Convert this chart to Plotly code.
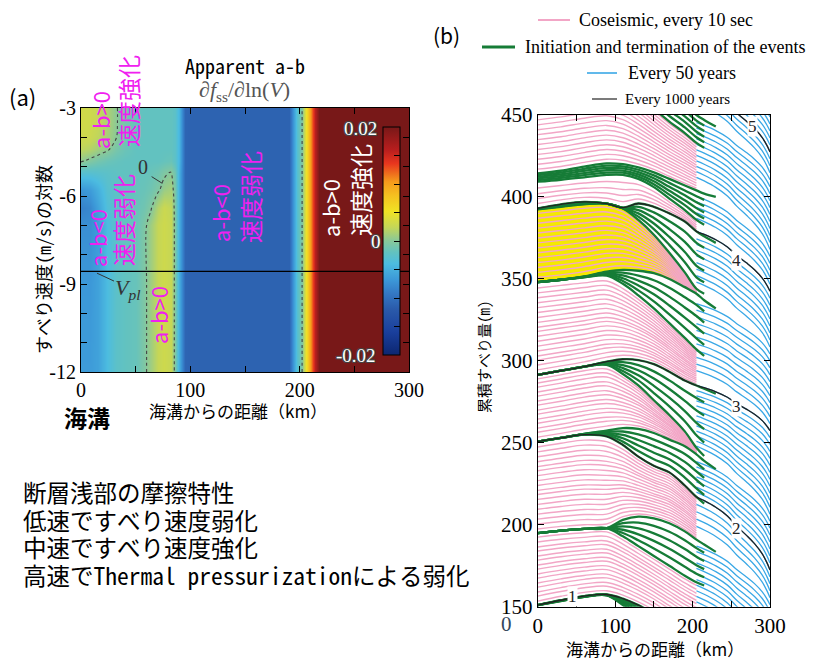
import plotly.graph_objects as go

# page body has an 8 px margin, so the figure is drawn 8 px in from the corner
OFF = 8
W, H = 831 - OFF, 660 - OFF


def px(x):
    return (x - OFF) / W


def py(y):
    return 1 - (y - OFF) / H


SERIF = "Liberation Serif, Times New Roman, serif"
JP = "Noto Sans CJK JP, sans-serif"
MONO = "Noto Sans Mono CJK JP, DejaVu Sans Mono, Noto Sans CJK JP, monospace"

# ---------------- panel (a): apparent a-b ----------------
ab_x_left = [0, 8, 16, 24, 32, 40, 50, 58, 64, 70, 76, 82, 86, 90]
ab_x_right = [95, 100, 190, 194, 198, 202, 206, 210, 214, 218, 224, 300]
ab_right = [-0.011, -0.0112, -0.0112, -0.007, -0.003, -0.0003, 0.005, 0.011, 0.016, 0.02, 0.025, 0.025]
ab_logv = [-12, -9, -7, -6.4, -5.8, -5.2, -4.8, -4.4, -4.0, -3.5, -3]
ab_rows_left = [
    [-0.0065, -0.0065, -0.006, -0.004, -0.0025, -0.002, -0.0017, -0.0005, 0.001, 0.0025, 0.003, 0.0025, -0.0005, -0.005],
    [-0.0068, -0.0068, -0.006, -0.004, -0.0025, -0.002, -0.0017, -0.0005, 0.001, 0.0025, 0.003, 0.0025, -0.0005, -0.005],
    [-0.0075, -0.0075, -0.0065, -0.004, -0.0025, -0.002, -0.0017, -0.0005, 0.001, 0.0025, 0.003, 0.0025, -0.0005, -0.005],
    [-0.0085, -0.008, -0.006, -0.0035, -0.0025, -0.002, -0.0017, -0.0012, -0.0002, 0.0018, 0.0028, 0.0023, -0.0006, -0.005],
    [-0.007, -0.0065, -0.005, -0.003, -0.0023, -0.002, -0.0018, -0.0016, -0.0012, -0.0004, 0.0008, 0.0012, -0.0008, -0.005],
    [-0.003, -0.003, -0.0028, -0.0025, -0.0022, -0.002, -0.0019, -0.0018, -0.0016, -0.0012, -0.0004, 0.0001, -0.0012, -0.005],
    [0.0003, -0.0004, -0.001, -0.0015, -0.0018, -0.002, -0.002, -0.002, -0.002, -0.002, -0.0018, -0.0016, -0.0025, -0.0045],
    [0.0022, 0.0018, 0.001, 0.0003, -0.0008, -0.0015, -0.002, -0.002, -0.002, -0.002, -0.002, -0.002, -0.0025, -0.0045],
    [0.003, 0.0028, 0.0022, 0.0012, 0.0001, -0.0012, -0.002, -0.002, -0.002, -0.002, -0.002, -0.002, -0.0025, -0.0045],
    [0.0032, 0.003, 0.0025, 0.0015, 0.0002, -0.001, -0.0018, -0.002, -0.002, -0.002, -0.002, -0.002, -0.0025, -0.0045],
    [0.0032, 0.003, 0.0025, 0.0015, 0.0002, -0.001, -0.0018, -0.002, -0.002, -0.002, -0.002, -0.002, -0.0025, -0.0045],
]
vpl_log = -8.57
cbar_ticks = [-0.02, -0.015, -0.01, -0.005, 0, 0.005, 0.01, 0.015, 0.02]

ab_colors = [
    [0.0, "#0c2670"], [0.1, "#1a3f9c"], [0.2, "#2a5aaa"], [0.27, "#3478c4"],
    [0.33, "#3c98d8"], [0.4, "#4cbce0"], [0.45, "#62c2c0"], [0.5, "#88c89a"],
    [0.56, "#c4d658"], [0.63, "#f0e224"], [0.7, "#f5c020"], [0.76, "#f59a1c"],
    [0.84, "#e8361e"], [0.9, "#b81e1e"], [1.0, "#781818"],
]

# ---------------- panel (b): cumulative slip ----------------
X_PROF = [0, 30, 60, 89, 110, 130, 150, 170, 190, 205, 215, 230]
# lowest (F) and top (T) green lines of each event cluster
F_LINES = [
    [151, 153.5, 156, 157, 151, 144, 136, 128, 120, 115, 112],
    [195, 196.5, 197.5, 198, 193, 187, 181, 175, 169, 165, 163],
    [250.7, 253, 255, 254, 248.7, 241.6, 236, 232, 224, 217, 213],
    [291.5, 294, 296.5, 297.5, 292, 285, 276, 267, 257, 247, 242],
    [348, 349.5, 351, 352, 347, 340, 332, 323, 314, 307, 303],
    [392.5, 394, 395.5, 396, 393, 386, 377, 366, 354, 344, 341],
    [409.3, 410.5, 412, 413.5, 413.5, 411, 406, 399, 392, 386, 383],
    [470, 472, 474, 475, 471, 463, 454, 446, 439, 433, 430],
]
T_LINES = [
    [151, 154, 156.5, 157.5, 155, 151, 146, 140, 134, 130, 127, 124],
    [195, 196.5, 197.5, 198, 203, 205, 204, 201, 196, 191, 188, 183.5],
    [250.7, 253, 255.5, 257.5, 259, 258.5, 256, 252, 248, 243, 239, 234],
    [291.5, 294, 296.5, 299.5, 301, 300.5, 298, 293.4, 288, 285, 283, 280],
    [348, 349.5, 351.5, 354.4, 355.5, 355, 353.5, 350, 345, 341, 337, 332],
    [393, 395.5, 397, 396, 393.5, 396, 394, 390, 385, 379, 376, 372],
    [414.4, 416, 418.5, 420.5, 420, 418, 415, 411, 407, 404, 402, 400],
    [473, 475, 478, 480, 479, 476, 470, 463, 456, 450, 447, 443],
]
fan_frac = [0.0, 0.2, 0.4, 0.6, 0.8]
# coseismic snapshot levels at the trench, per slip cycle
pink_levels = [
    [153.5, 156.5, 159, 162, 164.5, 167.5, 170, 173, 175.5, 178.5, 181, 184, 186.5, 189.5, 192.5],
    [197.5, 200.5, 203.5, 206.5, 209.5, 212.5, 215.5, 218.5, 221, 224, 227, 230, 233, 235.5, 238.5, 241.5, 244.5, 247.5],
    [253.5, 256.5, 259, 262, 264.5, 267.5, 270, 273, 275.5, 278.5, 281, 284, 286.5, 289],
    [294.5, 297.5, 300.5, 303, 306, 309, 312, 315, 318, 320.5, 323.5, 326.5, 329.5, 332.5, 335.5, 338.5, 341.5, 344.5],
    [351, 354, 357, 360, 363, 366, 369, 372, 375, 378, 381, 384, 387, 390],
    [396, 399, 402, 405.5],
    [417, 420, 423, 426, 429, 432, 435, 438, 441, 444, 447, 450, 453, 456, 459, 462, 465, 468],
]
yellow_cycle = 4

# every-50-year interseismic lines: slip at x=205 km and at x=300 km
blue_start = [149.6, 153, 156.4, 159.8, 163.2, 166.6, 170, 173.4, 176.8, 180.2, 183.6, 187,
              199, 203.5, 208, 212.5, 217, 220, 223, 226.2, 229.3, 232.4, 235.4, 238.5,
              248, 251, 254.1, 257.2, 260.3, 263.3, 266.4, 269.5, 272.6, 275.6, 278.7, 281.8, 285,
              294, 298.1, 302.2, 306.3, 310.4, 314.5, 318.6, 322.7, 326.8, 330.9, 335,
              348, 352, 356, 360, 364, 367.5, 371, 374.5, 379,
              387, 390.3, 393.7, 397, 400.3,
              412, 415.4, 418.7, 422, 425.4, 428.7, 432, 435.4, 438.7, 442, 445.4,
              457, 460.3, 463.7, 467, 470.3, 473.7, 477, 480.4, 483.7]
blue_end = [104.5, 108.75, 113, 117.25, 121.5, 125.75, 130, 134.25, 138.5, 142.75, 147, 151.25,
            155.5, 159.75, 164, 168.25, 172.5, 176.75, 181, 185.25, 189.5, 193.75, 198, 202.25,
            206.5, 210.75, 215, 219.25, 223.5, 227.75, 232, 236.25, 240.5, 244.75, 249, 253.25, 257.5,
            261.75, 266, 270.25, 274.5, 278.75, 283, 287.25, 291.5, 295.75, 300, 304.25,
            308.5, 312.75, 317, 321.25, 325.5, 329.75, 334, 338.25, 342.5,
            346.75, 351, 355.25, 359.5, 363.75,
            368, 372.25, 376.5, 380.75, 385, 389.25, 393.5, 397.75, 402, 406.25, 410.5,
            414.75, 419, 423.25, 427.5, 431.75, 436, 440.25, 444.5, 448.75]
X_DEEP = [205, 215, 230, 245, 257, 270, 280, 290, 296, 300]
deep_shape = [1, 0.95, 0.86, 0.74, 0.6, 0.47, 0.36, 0.22, 0.1, 0]

# every-1000-year lines
black_left = [
    [151, 154, 156.5, 157.5, 155, 151, 146, 140, 134, 130],
    [250.7, 253, 255, 254, 248.7, 241.6, 236, 232, 224, 217],
    [291.5, 294, 296.5, 299.5, 301, 300.5, 298, 293.4, 288, 285],
    [393, 395.5, 397, 396, 393.5, 396, 394, 390, 385, 379],
    [488, 490, 493, 495, 494, 490, 485, 478, 472, 467],
]
black_end = [88, 172.5, 257.5, 342.5, 427.5]
black_labels = ["1", "2", "3", "4", "5"]
black_label_pos = [(45, 156), (257, 198), (257, 272), (257, 361), (278, 443)]

PINK = "#f2a6c6"
GREEN = "#167c37"
BLUE = "#3aa8e6"
YELLOW = "#f5e900"

fig = go.Figure()

# ---- panel (a) traces ----
z = [row + ab_right for row in ab_rows_left]
xa = ab_x_left + ab_x_right
fig.add_trace(go.Heatmap(
    x=xa, y=ab_logv, z=z, zmin=-0.02, zmax=0.02, zsmooth="best",
    colorscale=ab_colors, hoverinfo="skip",
    colorbar=dict(x=px(383.3), xanchor="left", y=py(241.2), yanchor="middle",
                  len=(355 - 127.3) / H, lenmode="fraction", thickness=17,
                  thicknessmode="pixels", xpad=0, ypad=0, outlinewidth=1,
                  outlinecolor="black", ticks="inside", ticklen=6, tickcolor="black",
                  tickvals=cbar_ticks, showticklabels=False),
))
fig.add_trace(go.Contour(
    x=xa, y=ab_logv, z=z, autocontour=False,
    contours=dict(coloring="none", start=0, end=0, size=0.01, showlabels=False),
    line=dict(color="#444444", width=1.1, dash="dot"), showscale=False, hoverinfo="skip",
))
fig.add_trace(go.Scatter(x=[0, 300], y=[vpl_log, vpl_log], mode="lines",
                         line=dict(color="black", width=1.4), hoverinfo="skip"))


# ---- panel (b) traces ----
def blend(lo, hi, f, n):
    return [lo[i] + f * (hi[i] - lo[i]) for i in range(n)]


# yellow highlighted event
lo = T_LINES[yellow_cycle][:10]
hi = F_LINES[yellow_cycle + 1][:10]
fig.add_trace(go.Scatter(x=X_PROF[:10], y=lo, mode="lines", line=dict(width=0, shape="spline"),
                         xaxis="x2", yaxis="y2", hoverinfo="skip"))
fig.add_trace(go.Scatter(x=X_PROF[:10], y=hi, mode="lines", line=dict(width=0, shape="spline"),
                         fill="tonexty", fillcolor=YELLOW, xaxis="x2", yaxis="y2", hoverinfo="skip"))

# pink coseismic lines
pxs, pys = [], []
for k, levels in enumerate(pink_levels):
    lo = T_LINES[k]
    hi = F_LINES[k + 1]
    for L in levels:
        f = (L - lo[0]) / (hi[0] - lo[0])
        pxs += X_PROF[:10] + [None]
        pys += blend(lo, hi, f, 10) + [None]
fig.add_trace(go.Scatter(x=pxs, y=pys, mode="lines", line=dict(color=PINK, width=1.4, shape="spline"),
                         xaxis="x2", yaxis="y2", hoverinfo="skip"))

# blue interseismic lines
bxs, bys = [], []
for s, e in zip(blue_start, blue_end):
    bxs += X_DEEP + [None]
    bys += [e + (s - e) * g for g in deep_shape] + [None]
fig.add_trace(go.Scatter(x=bxs, y=bys, mode="lines", line=dict(color=BLUE, width=1.3, shape="spline"),
                         xaxis="x2", yaxis="y2", hoverinfo="skip"))

# green initiation / termination lines
gxs, gys = [], []
for Fl, Tl in zip(F_LINES, T_LINES):
    for f in fan_frac:
        gxs += X_PROF[:11] + [None]
        gys += blend(Fl, Tl, f, 11) + [None]
    gxs += X_PROF + [None]
    gys += Tl + [None]
fig.add_trace(go.Scatter(x=gxs, y=gys, mode="lines", line=dict(color=GREEN, width=2.3, shape="spline"),
                         xaxis="x2", yaxis="y2", hoverinfo="skip"))

# black 1000-year lines
kxs, kys = [], []
for left, e in zip(black_left, black_end):
    s = left[-1]
    kxs += X_PROF[:10] + X_DEEP[1:] + [None]
    kys += left + [e + (s - e) * g for g in deep_shape[1:]] + [None]
fig.add_trace(go.Scatter(x=kxs, y=kys, mode="lines", line=dict(color="#222222", width=1.3, shape="spline"),
                         xaxis="x2", yaxis="y2", hoverinfo="skip"))

# ---------------- layout ----------------
axis_common = dict(showgrid=False, zeroline=False, showline=True, linecolor="black", linewidth=1.2,
                   mirror="ticks", ticks="inside", ticklen=6, tickcolor="black", tickwidth=1,
                   automargin=False)

annotations = []


def ann(text, x, y, size, color="black", family=JP, angle=0, xanchor="center", yanchor="middle", **kw):
    font = dict(size=size, color=color, family=family)
    if "shadow" in kw:
        font["shadow"] = kw.pop("shadow")
    if "weight" in kw:
        font["weight"] = kw.pop("weight")
    annotations.append(dict(text=text, x=px(x), y=py(y), xref="paper", yref="paper", showarrow=False,
                            font=font, textangle=angle, xanchor=xanchor, yanchor=yanchor, **kw))


MAG = "#f020f0"
# panel a texts
ann("Apparent a-b", 245, 65, 20, family=MONO)
ann("∂<i>f</i><sub>ss</sub>/∂ln(<i>V</i>)", 245, 91, 22, color="#555555", family=SERIF)
ann("(a)", 22, 96, 22, family=JP)
ann("海溝", 87, 417, 23, family=JP, weight="bold")
ann("海溝からの距離（km）", 238, 410, 17, family=JP)
ann("すべり速度(m/s)の対数", 43, 260, 18, family=MONO, angle=-90)
ann("a-b>0", 100, 120, 22, color=MAG, angle=-90)
ann("速度強化", 128, 101, 23, color=MAG, angle=-90)
ann("a-b<0", 97, 238, 22, color=MAG, angle=-90)
ann("速度弱化", 123, 220, 23, color=MAG, angle=-90)
ann("a-b>0", 158, 315, 22, color=MAG, angle=-90)
ann("a-b<0", 220, 213, 22, color=MAG, angle=-90)
ann("速度弱化", 250, 197, 23, color=MAG, angle=-90)
ann("a-b>0", 330, 208, 22, color="white", angle=-90)
ann("速度強化", 360, 190, 23, color="white", angle=-90)
OUTLINE = "1px 1px 0 #444, -1px -1px 0 #444, 1px -1px 0 #444, -1px 1px 0 #444"
ann("0.02", 360, 128, 19, color="white", family=SERIF, shadow=OUTLINE)
ann("0", 376, 241, 19, color="white", family=SERIF, shadow=OUTLINE)
ann("-0.02", 356, 355, 19, color="white", family=SERIF, shadow=OUTLINE)
ann("<i>V</i><sub><i>pl</i></sub>", 128, 289, 22, color="#333333", family=SERIF)
ann("0", 143, 167, 20, color="#333333", family=SERIF)

# bottom-left notes
notes = ["断層浅部の摩擦特性", "低速ですべり速度弱化", "中速ですべり速度強化", "高速でThermal pressurizationによる弱化"]
for i, t in enumerate(notes):
    ann(t, 21, 492 + 27.7 * i, 23.5, family=MONO, xanchor="left")

# panel b texts
ann("(b)", 446, 35, 21, family=JP)
ann("累積すべり量(m)", 483, 357, 15, family=MONO, angle=-90)
ann("海溝からの距離（km）", 655, 648, 17, family=JP)
ann("0", 507, 624, 21, color="#33475b", family=SERIF)
ann("Coseismic, every 10 sec", 577, 20, 18, family=SERIF, xanchor="left")
ann("Initiation and termination of the events", 523, 47, 18, family=SERIF, xanchor="left")
ann("Every 50 years", 626, 73, 18, family=SERIF, xanchor="left")
ann("Every 1000 years", 623, 99, 15, family=SERIF, xanchor="left")

for lab, (lx, ly) in zip(black_labels, black_label_pos):
    annotations.append(dict(text=lab, x=lx, y=ly, xref="x2", yref="y2", showarrow=False,
                            font=dict(size=17, color="#222222", family=SERIF), bgcolor="white",
                            borderpad=0))

shapes = [
    dict(type="line", xref="paper", yref="paper", x0=px(538), x1=px(570), y0=py(20), y1=py(20),
         line=dict(color=PINK, width=2)),
    dict(type="line", xref="paper", yref="paper", x0=px(482), x1=px(515), y0=py(47), y1=py(47),
         line=dict(color=GREEN, width=3)),
    dict(type="line", xref="paper", yref="paper", x0=px(587), x1=px(617), y0=py(73), y1=py(73),
         line=dict(color=BLUE, width=1.6)),
    dict(type="line", xref="paper", yref="paper", x0=px(592), x1=px(617), y0=py(99), y1=py(99),
         line=dict(color="#222222", width=1.2)),
    # leader lines in panel (a)
    dict(type="line", xref="x", yref="y", x0=14.6, y0=-8.63, x1=30.2, y1=-8.9,
         line=dict(color="#333333", width=1)),
    dict(type="line", xref="x", yref="y", x0=64.6, y0=-5.34, x1=74.4, y1=-5.57,
         line=dict(color="#333333", width=1)),
]

fig.update_layout(
    width=W, height=H, margin=dict(l=0, r=0, t=0, b=0, autoexpand=False),
    paper_bgcolor="white", plot_bgcolor="white", showlegend=False,
    xaxis=dict(domain=[px(81), px(409)], range=[0, 300], anchor="y",
               tickvals=[0, 100, 200, 300], ticktext=["0", "100", "200", "300"],
               minor=dict(tickvals=[50, 150, 250], ticks="inside", ticklen=6, tickcolor="black"),
               tickfont=dict(family=SERIF, size=20, color="black"), **axis_common),
    yaxis=dict(domain=[py(372), py(108)], range=[-12, -3], anchor="x",
               tickvals=[-12, -9, -6, -3], ticktext=["-12", "-9", "-6", "-3"],
               minor=dict(tickvals=[-11, -10, -8, -7, -5, -4], ticks="inside", ticklen=6, tickcolor="black"),
               tickfont=dict(family=SERIF, size=20, color="black"), **axis_common),
    xaxis2=dict(domain=[px(537.7), px(770)], range=[0, 300], anchor="y2",
                tickvals=[0, 100, 200, 300], ticktext=["0", "100", "200", "300"],
                minor=dict(tickvals=[50, 150, 250], ticks="inside", ticklen=6, tickcolor="black"),
                tickfont=dict(family=SERIF, size=21, color="black"), **axis_common),
    yaxis2=dict(domain=[py(606.8), py(115)], range=[150, 450], anchor="x2",
                tickvals=[150, 200, 250, 300, 350, 400, 450],
                tickfont=dict(family=SERIF, size=21, color="black"), **axis_common),
    annotations=annotations,
    shapes=shapes,
)

fig.write_html("out.html")
